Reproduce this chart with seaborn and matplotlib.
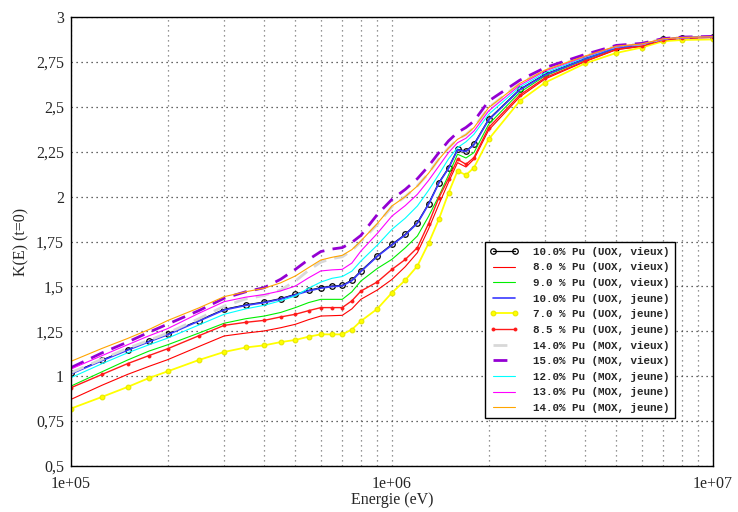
from __future__ import annotations

import matplotlib

matplotlib.use("Agg")

import matplotlib.pyplot as plt
import matplotlib.ticker as mticker
import pandas as pd
import seaborn as sns


OUTPUT_PATH = "out.png"

ENERGY_EV = [
    1e5, 1.25e5, 1.5e5, 1.75e5, 2e5, 2.5e5, 3e5, 3.5e5, 4e5, 4.5e5,
    5e5, 5.5e5, 6e5, 6.5e5, 7e5, 7.5e5, 8e5, 9e5, 1e6, 1.1e6,
    1.2e6, 1.3e6, 1.4e6, 1.5e6, 1.6e6, 1.7e6, 1.8e6, 2e6, 2.5e6, 3e6,
    4e6, 5e6, 6e6, 7e6, 8e6, 1e7,
]

K_UOX_10_VIEUX = [
    1.016, 1.09, 1.148, 1.195, 1.234, 1.31, 1.372, 1.397, 1.413, 1.432,
    1.456, 1.478, 1.493, 1.502, 1.506, 1.535, 1.586, 1.67, 1.734, 1.79,
    1.855, 1.96, 2.078, 2.16, 2.263, 2.254, 2.291, 2.43, 2.597, 2.681,
    2.768, 2.83, 2.845, 2.876, 2.885, 2.889,
]
K_UOX_8_VIEUX = [
    0.871, 0.95, 1.01, 1.055, 1.092, 1.165, 1.224, 1.24, 1.252, 1.27,
    1.289, 1.315, 1.335, 1.337, 1.339, 1.375, 1.428, 1.48, 1.539, 1.61,
    1.688, 1.82, 1.957, 2.08, 2.189, 2.165, 2.208, 2.37, 2.555, 2.655,
    2.752, 2.818, 2.836, 2.871, 2.881, 2.886,
]
K_UOX_9_VIEUX = [
    0.945, 1.025, 1.09, 1.14, 1.175, 1.24, 1.295, 1.32, 1.335, 1.355,
    1.382, 1.41, 1.428, 1.428, 1.428, 1.47, 1.53, 1.6, 1.651, 1.715,
    1.781, 1.89, 2.003, 2.12, 2.236, 2.215, 2.245, 2.402, 2.58, 2.672,
    2.762, 2.826, 2.842, 2.874, 2.884, 2.888,
]
K_UOX_10_JEUNE = [
    1.013, 1.087, 1.145, 1.192, 1.231, 1.307, 1.369, 1.394, 1.41, 1.429,
    1.453, 1.475, 1.49, 1.499, 1.503, 1.532, 1.583, 1.667, 1.731, 1.787,
    1.852, 1.957, 2.075, 2.157, 2.26, 2.251, 2.288, 2.427, 2.594, 2.678,
    2.766, 2.828, 2.843, 2.875, 2.884, 2.888,
]
K_UOX_7_JEUNE = [
    0.82, 0.885, 0.94, 0.99, 1.027, 1.09, 1.135, 1.16, 1.172, 1.19,
    1.202, 1.22, 1.233, 1.233, 1.233, 1.26, 1.307, 1.375, 1.465, 1.535,
    1.614, 1.74, 1.874, 2.02, 2.143, 2.12, 2.161, 2.319, 2.532, 2.635,
    2.742, 2.8, 2.83, 2.865, 2.872, 2.875,
]
K_UOX_85_JEUNE = [
    0.936, 1.01, 1.07, 1.115, 1.153, 1.225, 1.283, 1.3, 1.311, 1.33,
    1.345, 1.365, 1.382, 1.382, 1.382, 1.42, 1.474, 1.525, 1.595, 1.65,
    1.716, 1.85, 1.994, 2.1, 2.208, 2.18, 2.217, 2.384, 2.565, 2.662,
    2.755, 2.82, 2.838, 2.872, 2.882, 2.887,
]
K_MOX_14_VIEUX = [
    1.02, 1.095, 1.155, 1.2, 1.24, 1.32, 1.39, 1.43, 1.45, 1.48,
    1.53, 1.59, 1.635, 1.655, 1.665, 1.7, 1.75, 1.845, 1.945, 2.0,
    2.06, 2.13, 2.21, 2.27, 2.32, 2.345, 2.385, 2.495, 2.63, 2.705,
    2.783, 2.838, 2.85, 2.879, 2.886, 2.89,
]
K_MOX_15_VIEUX = [
    1.048, 1.13, 1.19, 1.245, 1.29, 1.365, 1.434, 1.47, 1.493, 1.54,
    1.595, 1.65, 1.694, 1.708, 1.716, 1.745, 1.784, 1.9, 1.985, 2.04,
    2.1, 2.17, 2.245, 2.31, 2.357, 2.385, 2.42, 2.532, 2.648, 2.718,
    2.792, 2.842, 2.853, 2.88, 2.888, 2.892,
]
K_MOX_12_JEUNE = [
    0.992, 1.07, 1.13, 1.175, 1.212, 1.285, 1.345, 1.375, 1.395, 1.42,
    1.447, 1.49, 1.524, 1.545, 1.555, 1.585, 1.641, 1.73, 1.818, 1.88,
    1.948, 2.035, 2.124, 2.21, 2.273, 2.305, 2.347, 2.458, 2.61, 2.69,
    2.775, 2.834, 2.848, 2.877, 2.886, 2.89,
]
K_MOX_13_JEUNE = [
    1.04, 1.115, 1.175, 1.225, 1.265, 1.35, 1.415, 1.44, 1.455, 1.475,
    1.502, 1.548, 1.586, 1.592, 1.595, 1.63, 1.697, 1.795, 1.892, 1.95,
    2.013, 2.09, 2.17, 2.245, 2.3, 2.325, 2.365, 2.477, 2.62, 2.7,
    2.779, 2.836, 2.849, 2.878, 2.886, 2.89,
]
K_MOX_14_JEUNE = [
    1.083, 1.155, 1.21, 1.26, 1.31, 1.38, 1.443, 1.47, 1.49, 1.52,
    1.558, 1.605, 1.647, 1.662, 1.673, 1.705, 1.753, 1.85, 1.948, 2.0,
    2.059, 2.13, 2.208, 2.27, 2.319, 2.345, 2.384, 2.495, 2.63, 2.705,
    2.783, 2.838, 2.85, 2.879, 2.886, 2.89,
]

SERIES_LABELS = [
    "10.0% Pu (UOX, vieux)",
    "8.0 % Pu (UOX, vieux)",
    "9.0 % Pu (UOX, vieux)",
    "10.0% Pu (UOX, jeune)",
    "7.0 % Pu (UOX, jeune)",
    "8.5 % Pu (UOX, jeune)",
    "14.0% Pu (MOX, vieux)",
    "15.0% Pu (MOX, vieux)",
    "12.0% Pu (MOX, jeune)",
    "13.0% Pu (MOX, jeune)",
    "14.0% Pu (MOX, jeune)",
]
SERIES_VALUES = [
    K_UOX_10_VIEUX, K_UOX_8_VIEUX, K_UOX_9_VIEUX, K_UOX_10_JEUNE,
    K_UOX_7_JEUNE, K_UOX_85_JEUNE, K_MOX_14_VIEUX, K_MOX_15_VIEUX,
    K_MOX_12_JEUNE, K_MOX_13_JEUNE, K_MOX_14_JEUNE,
]

# one style dict per series, same order as the labels
# (seaborn puts a white marker edge by default, so mec is always given)
SERIES_STYLES = [
    dict(color="black", lw=0.9, marker="o", ms=4.0, mfc="none", mec="black", mew=0.9),
    dict(color="#ff0000", lw=0.8),
    dict(color="#00ee00", lw=0.8),
    dict(color="#3a3aff", lw=1.2),
    dict(color="#ffff00", lw=1.3, marker="o", ms=3.4, mec="#e8e800", mew=0.8),
    dict(color="#ff1a1a", lw=1.0, marker="o", ms=2.2, mec="#ff1a1a", mew=0.6),
    dict(color="#d8d8d8", lw=2.0, dashes=(5, 3)),
    dict(color="#9400d3", lw=2.0, dashes=(5, 3)),
    dict(color="#00ffff", lw=0.8),
    dict(color="#ff00ff", lw=0.8),
    dict(color="#ffa500", lw=0.8),
]

Y_TICKS = [0.5, 0.75, 1, 1.25, 1.5, 1.75, 2, 2.25, 2.5, 2.75, 3]


def comma_format(value, _pos):
    return f"{value:g}".replace(".", ",")


def main() -> None:
    sns.set_style("ticks")
    plt.rcParams["font.family"] = ["Liberation Serif", "DejaVu Serif"]

    fig = plt.figure(figsize=(7.38, 5.12), dpi=100)
    ax = fig.add_axes([0.0962, 0.0898, 0.8699, 0.877])

    for label, values, style in zip(SERIES_LABELS, SERIES_VALUES, SERIES_STYLES):
        df = pd.DataFrame({"energy": ENERGY_EV, "k": values})
        sns.lineplot(data=df, x="energy", y="k", ax=ax, label=label,
                     estimator=None, sort=False, **style)

    ax.set_xscale("log")
    ax.set_xlim(1e5, 1e7)
    ax.set_ylim(0.5, 3)
    ax.set_yticks(Y_TICKS)
    ax.yaxis.set_major_formatter(mticker.FuncFormatter(comma_format))
    ax.xaxis.set_major_locator(mticker.FixedLocator([1e5, 1e6, 1e7]))
    ax.xaxis.set_major_formatter(mticker.FixedFormatter(["1e+05", "1e+06", "1e+07"]))
    ax.xaxis.set_minor_locator(mticker.LogLocator(base=10, subs=range(2, 10)))
    ax.xaxis.set_minor_formatter(mticker.NullFormatter())

    ax.grid(which="major", axis="y", linestyle=(0, (1, 3)), color="0.2", lw=0.9)
    ax.grid(which="both", axis="x", linestyle=(0, (1, 3)), color="0.45", lw=0.9)
    ax.tick_params(which="both", direction="in", length=0, labelsize=11.5)
    ax.tick_params(axis="x", pad=7)
    ax.tick_params(axis="y", pad=5)

    for spine in ax.spines.values():
        spine.set_color("black")
        spine.set_linewidth(1.0)

    ax.set_xlabel("Energie (eV)", fontsize=11.5, labelpad=0)
    ax.set_ylabel("K(E) (t=0)", fontsize=11.5, labelpad=5)

    legend = ax.legend(
        loc="lower right",
        bbox_to_anchor=(0.949, 0.095),
        prop={"family": "Liberation Mono", "weight": "bold", "size": 7.8},
        numpoints=2,
        handlelength=2.6,
        labelspacing=0.52,
        borderpad=0.45,
        handletextpad=1.4,
        fancybox=False,
        framealpha=1,
        edgecolor="black",
    )
    legend.get_frame().set_linewidth(1.0)

    fig.savefig(OUTPUT_PATH, dpi=100)
    plt.close(fig)


if __name__ == "__main__":
    main()
